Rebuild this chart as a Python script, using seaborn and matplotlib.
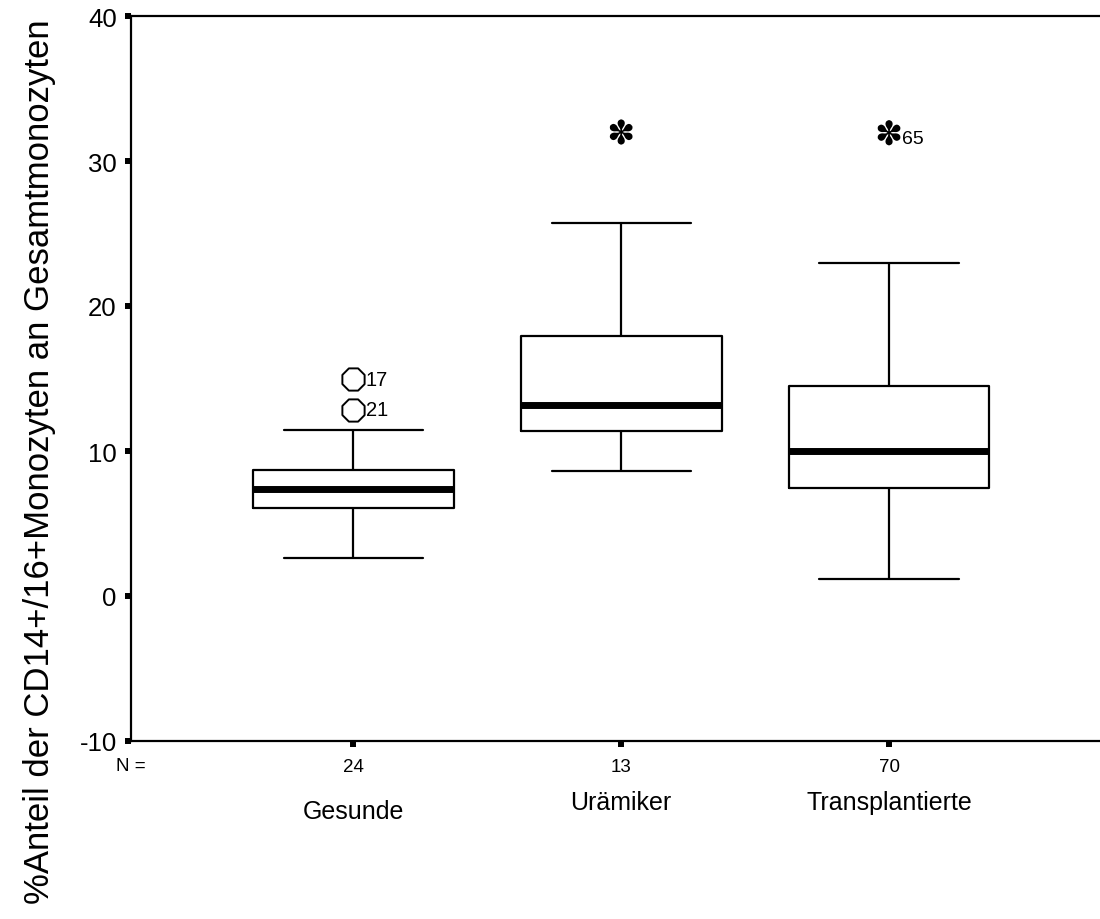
import numpy as np
import pandas as pd
import matplotlib
matplotlib.use("Agg")
import matplotlib.pyplot as plt
import matplotlib.transforms as mtransforms
import seaborn as sns

# ---- data ----
categories = ["Gesunde", "Urämiker", "Transplantierte"]
n_counts = [24, 13, 70]
whisker_low = [2.6, 8.6, 1.2]
q1 = [6.07, 11.35, 7.45]
median = [7.38, 13.15, 10.0]
q3 = [8.68, 17.9, 14.46]
whisker_high = [11.46, 25.75, 22.96]

outlier_group = ["Gesunde", "Gesunde"]
outlier_value = [14.95, 12.85]
outlier_label = ["17", "21"]

extreme_group = ["Urämiker", "Transplantierte"]
extreme_value = [32.0, 31.95]
extreme_label = ["", "65"]

y_ticks = [-10, 0, 10, 20, 30, 40]
y_label = "%Anteil der CD14+/16+Monozyten an Gesamtmonozyten"
n_prefix = "N ="

# ---- style ----
sns.set_style("white")
plt.rcParams["font.family"] = ["Liberation Sans", "DejaVu Sans"]
plt.rcParams["text.color"] = "black"
plt.rcParams["axes.labelcolor"] = "black"
plt.rcParams["xtick.color"] = "black"
plt.rcParams["ytick.color"] = "black"

rows = []
for cat, a, b, c, d, e in zip(categories, whisker_low, q1, median, q3, whisker_high):
    for v in (a, b, c, d, e):
        rows.append({"Gruppe": cat, "Wert": v})
df = pd.DataFrame(rows)

fig = plt.figure(figsize=(11, 9.2), dpi=100)
ax = fig.add_axes([131 / 1100, 1 - 742 / 920, 975 / 1100, 725 / 920])

sns.boxplot(
    data=df, x="Gruppe", y="Wert", order=categories,
    whis=(0, 100), width=0.75, fill=False, color="black", linewidth=1.6,
    medianprops=dict(linewidth=5, color="black"),
    capwidths=0.52, ax=ax,
)

pos = {c: i for i, c in enumerate(categories)}

out_df = pd.DataFrame({"x": [pos[g] for g in outlier_group], "y": outlier_value})
sns.scatterplot(data=out_df, x="x", y="y", marker="8", s=300, facecolor="white",
                edgecolor="black", linewidth=1.4, ax=ax, zorder=5)

ext_df = pd.DataFrame({"x": [pos[g] for g in extreme_group], "y": extreme_value})
sns.scatterplot(data=ext_df, x="x", y="y", marker="$\u273D$", s=330, color="black",
                edgecolor="none", linewidth=0, ax=ax, zorder=5)

for g, v, lbl in zip(outlier_group, outlier_value, outlier_label):
    ax.annotate(lbl, (pos[g], v), xytext=(9, 0), textcoords="offset points",
                ha="left", va="center", fontsize=14.5)
for g, v, lbl in zip(extreme_group, extreme_value, extreme_label):
    if lbl:
        ax.annotate(lbl, (pos[g], v), xytext=(9, -4), textcoords="offset points",
                    ha="left", va="center", fontsize=14)

ax.set_xlim(-0.83, 2.81)
ax.set_ylim(-10, 40)
ax.set_yticks(y_ticks)
ax.set_yticklabels([str(t) for t in y_ticks], fontsize=18.5)
ax.set_xticks(range(len(categories)))
ax.set_xticklabels([str(n) for n in n_counts], fontsize=13.5)
ax.set_xlabel("")
ax.set_ylabel("")

ax.tick_params(axis="both", direction="out", length=4.3, width=4.3, color="black",
               labelcolor="black")
ax.tick_params(axis="y", pad=6)
ax.tick_params(axis="x", pad=8)
ax.yaxis.set_ticks_position("left")
ax.xaxis.set_ticks_position("bottom")

for side in ["left", "top", "bottom"]:
    ax.spines[side].set_visible(True)
    ax.spines[side].set_color("black")
    ax.spines[side].set_linewidth(1.6)
ax.spines["right"].set_visible(False)

# N = prefix on the count row
blend_ax = mtransforms.blended_transform_factory(ax.transAxes, fig.transFigure)
ax.text(0.0, 1 - 767 / 920, n_prefix, transform=blend_ax, ha="center", va="center",
        fontsize=13.5)

# category names under the counts
blend = mtransforms.blended_transform_factory(ax.transData, fig.transFigure)
cat_y = [1 - 812 / 920, 1 - 803 / 920, 1 - 803 / 920]
for i, (cat, yy) in enumerate(zip(categories, cat_y)):
    ax.text(i, yy, cat, transform=blend, ha="center", va="center", fontsize=18)

fig.text(40 / 1100, 1 - 462 / 920, y_label, rotation=90, ha="center", va="center",
         fontsize=25)

fig.savefig("out.png", dpi=100, facecolor="white")
